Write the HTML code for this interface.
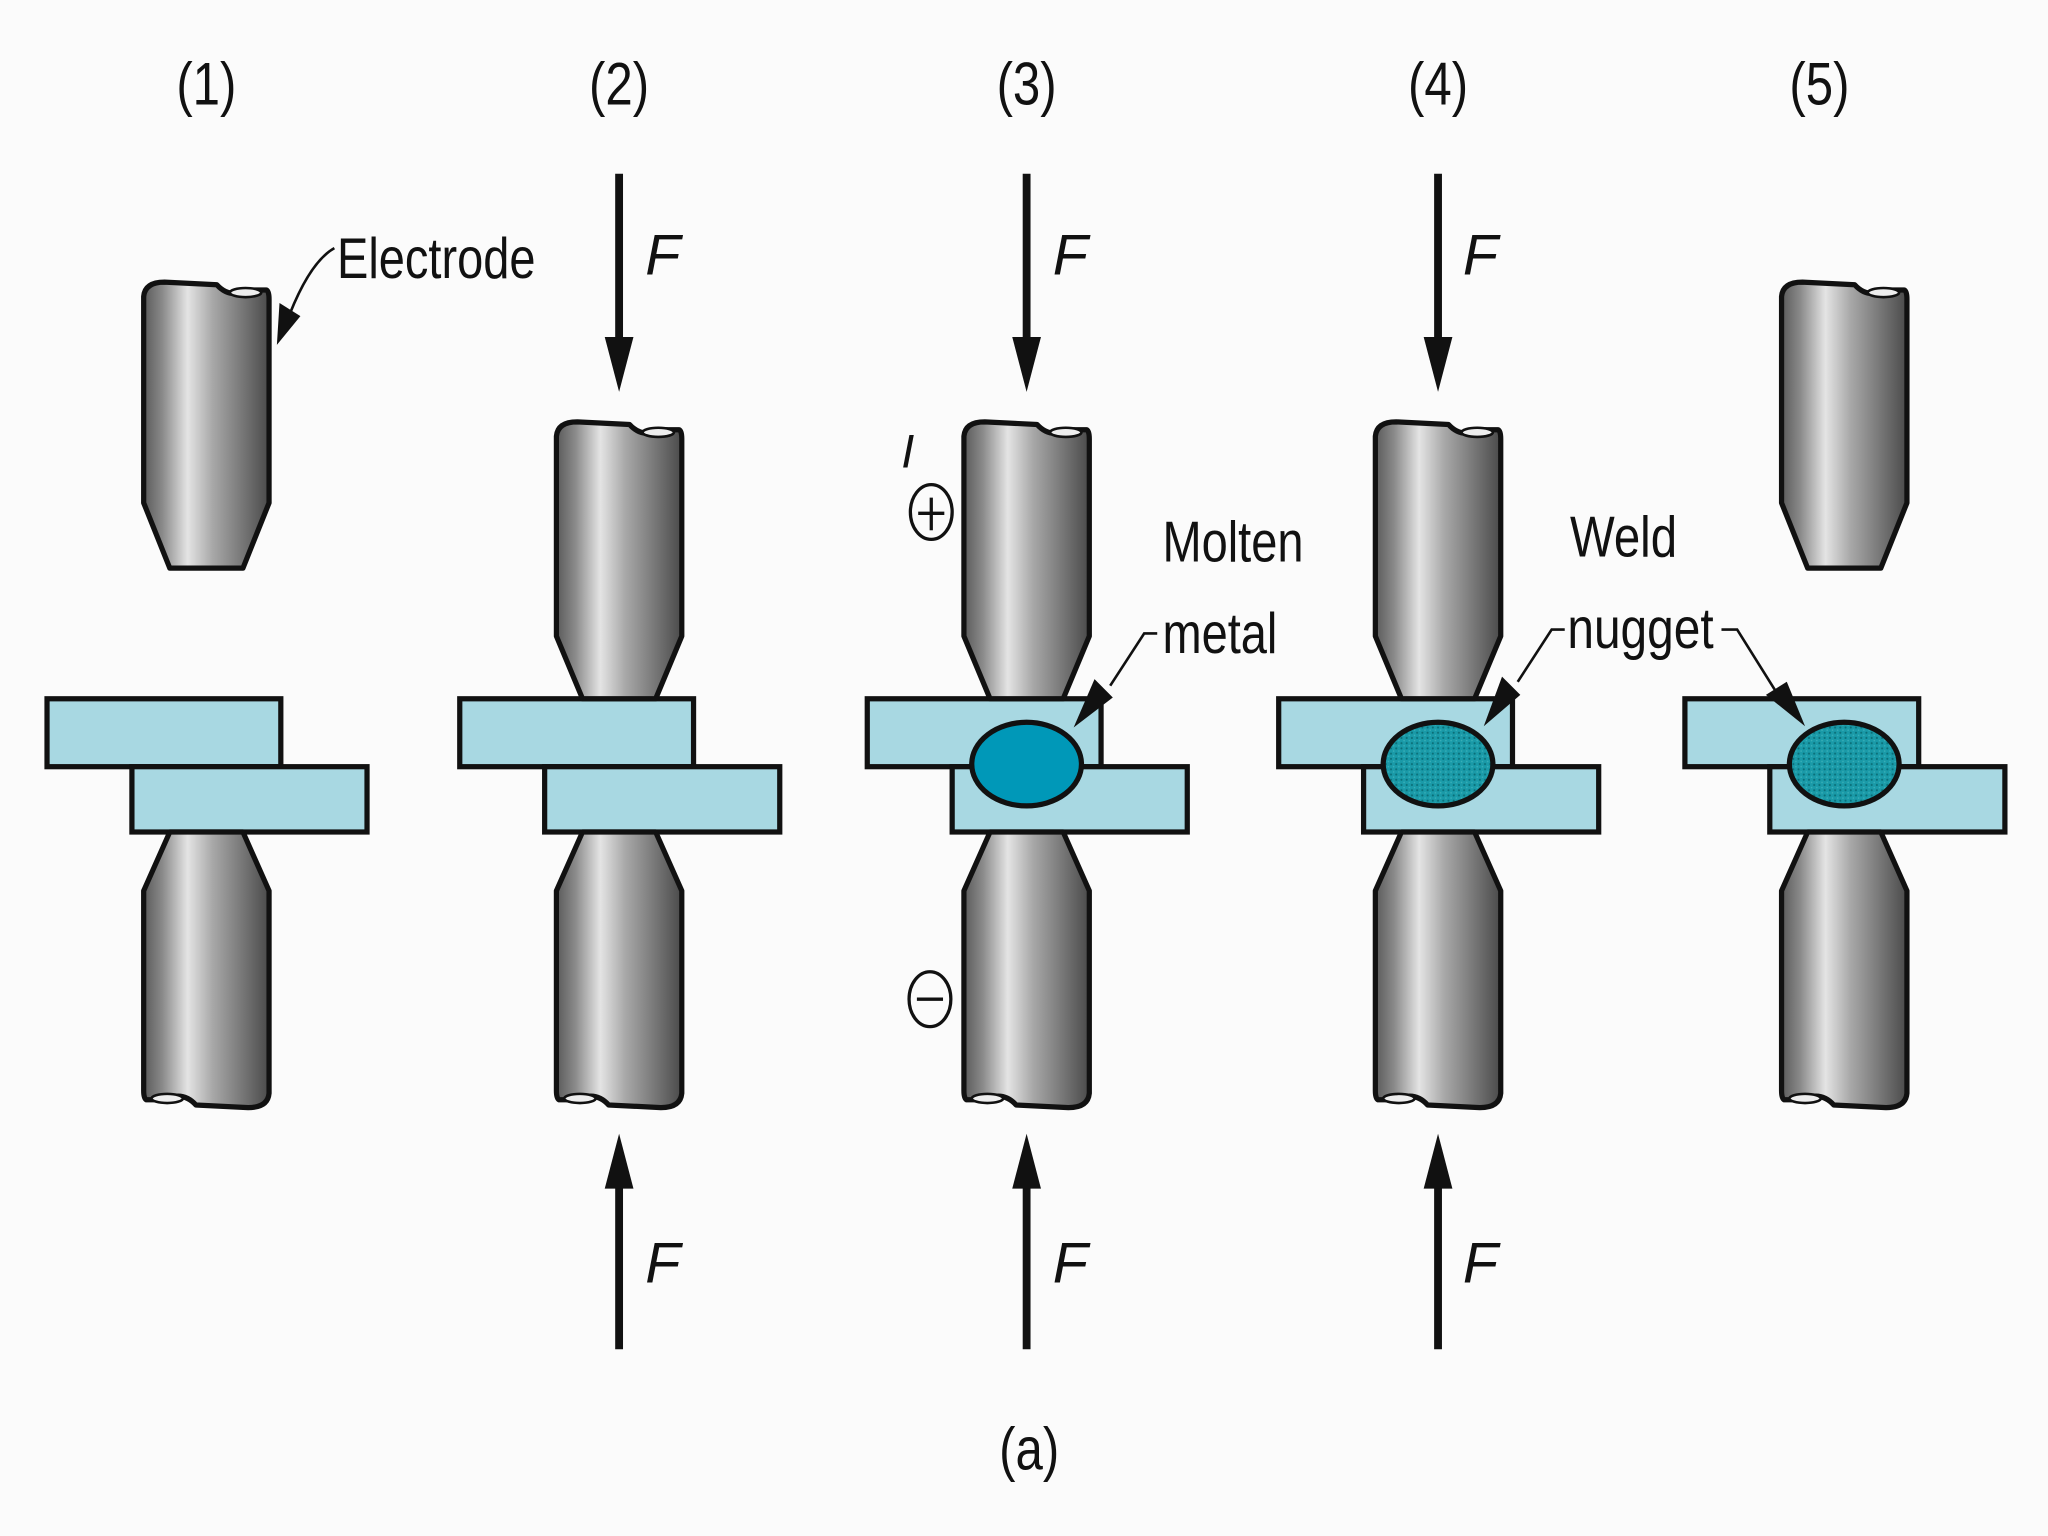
<!DOCTYPE html>
<html><head><meta charset="utf-8"><style>
html,body{margin:0;padding:0;background:#fbfbfb}
svg{display:block}
text{font-family:"Liberation Sans Narrow","Liberation Sans",sans-serif;fill:#111}
</style></head><body>
<svg width="2048" height="1536" viewBox="0 0 1568 1176" xmlns="http://www.w3.org/2000/svg">
<defs>
<linearGradient id="g" x1="0" x2="1" y1="0" y2="0">
<stop offset="0" stop-color="#5a5a5a"/><stop offset="0.15" stop-color="#8a8a8a"/>
<stop offset="0.35" stop-color="#e4e4e4"/><stop offset="0.55" stop-color="#a8a8a8"/>
<stop offset="0.85" stop-color="#6a6a6a"/><stop offset="1" stop-color="#4a4a4a"/>
</linearGradient>
<pattern id="dots" width="4" height="4" patternUnits="userSpaceOnUse">
<rect width="4" height="4" fill="#1a9aa8"/><circle cx="1" cy="1" r="0.8" fill="#0a6f78"/><circle cx="3" cy="3" r="0.6" fill="#3ab0b8"/>
</pattern>
<g id="up">
<path d="M-48,12 Q-47,1 -32,1 L8,3 Q18,14 32,7 L46,7 Q48,8 48,14 L48,165 L28,213 L-28,213 L-48,165 Z" fill="url(#g)" stroke="#111" stroke-width="4" stroke-linejoin="round"/>
<ellipse cx="30" cy="9" rx="12" ry="3.5" fill="#eee" stroke="#111" stroke-width="2"/>
</g>
<g id="up1">
<path d="M-48,12 Q-47,1 -32,1 L8,3 Q18,14 32,7 L46,7 Q48,8 48,14 L48,170 L28,220 L-28,220 L-48,170 Z" fill="url(#g)" stroke="#111" stroke-width="4" stroke-linejoin="round"/>
<ellipse cx="30" cy="9" rx="12" ry="3.5" fill="#eee" stroke="#111" stroke-width="2"/>
</g>
<g id="lo">
<path d="M-28,0 L28,0 L48,45 L48,200 Q47,211 32,211 L-8,209 Q-18,198 -32,205 L-46,205 Q-48,204 -48,198 L-48,45 Z" fill="url(#g)" stroke="#111" stroke-width="4" stroke-linejoin="round"/>
<ellipse cx="-30" cy="204" rx="12" ry="3.5" fill="#eee" stroke="#111" stroke-width="2"/>
</g>
<g id="plates">
<rect x="-122" y="535" width="179" height="52" fill="#a8d8e2" stroke="#111" stroke-width="4"/>
<rect x="-57" y="587" width="180" height="50" fill="#a8d8e2" stroke="#111" stroke-width="4"/>
</g>
<g id="fd"><line x1="0" y1="133" x2="0" y2="262" stroke="#111" stroke-width="6"/><path d="M-11,258 L11,258 L0,300 Z" fill="#111"/></g>
<g id="fu"><line x1="0" y1="1033" x2="0" y2="905" stroke="#111" stroke-width="6"/><path d="M-11,910 L11,910 L0,868 Z" fill="#111"/></g>
</defs>

<g font-size="46" text-anchor="middle">
<text x="158" y="80" textLength="46" lengthAdjust="spacingAndGlyphs">(1)</text>
<text x="474" y="80" textLength="46" lengthAdjust="spacingAndGlyphs">(2)</text>
<text x="786" y="80" textLength="46" lengthAdjust="spacingAndGlyphs">(3)</text>
<text x="1101" y="80" textLength="46" lengthAdjust="spacingAndGlyphs">(4)</text>
<text x="1393" y="80" textLength="46" lengthAdjust="spacingAndGlyphs">(5)</text>
</g>

<use href="#plates" x="158"/>
<use href="#up1" x="158" y="215"/>
<use href="#lo" x="158" y="637"/>

<use href="#plates" x="474"/>
<use href="#up" x="474" y="322"/>
<use href="#lo" x="474" y="637"/>
<use href="#fd" x="474"/><use href="#fu" x="474"/>

<use href="#plates" x="786"/>
<use href="#up" x="786" y="322"/>
<use href="#lo" x="786" y="637"/>
<use href="#fd" x="786"/><use href="#fu" x="786"/>
<ellipse cx="786" cy="585" rx="42" ry="32" fill="#0098b8" stroke="#111" stroke-width="4"/>

<use href="#plates" x="1101"/>
<use href="#up" x="1101" y="322"/>
<use href="#lo" x="1101" y="637"/>
<use href="#fd" x="1101"/><use href="#fu" x="1101"/>
<ellipse cx="1101" cy="585" rx="42" ry="32" fill="url(#dots)" stroke="#111" stroke-width="4"/>

<use href="#plates" x="1412"/>
<use href="#up1" x="1412" y="215"/>
<use href="#lo" x="1412" y="637"/>
<ellipse cx="1412" cy="585" rx="42" ry="32" fill="url(#dots)" stroke="#111" stroke-width="4"/>

<g font-size="44" font-style="italic">
<text x="494" y="210">F</text><text x="806" y="210">F</text><text x="1120" y="210">F</text>
<text x="494" y="982">F</text><text x="806" y="982">F</text><text x="1120" y="982">F</text>
</g>

<text x="258" y="213" font-size="44" textLength="152" lengthAdjust="spacingAndGlyphs">Electrode</text>
<path d="M256,190 Q238,200 222,240" fill="none" stroke="#111" stroke-width="2"/>
<path d="M212,264 L214,232 L230,242 Z" fill="#111"/>

<text x="690" y="358" font-size="36" font-style="italic">I</text>
<ellipse cx="713" cy="392" rx="16" ry="21" fill="none" stroke="#111" stroke-width="2.5"/>
<line x1="703" y1="393" x2="723" y2="393" stroke="#111" stroke-width="2.5"/>
<line x1="713" y1="381" x2="713" y2="406" stroke="#111" stroke-width="2.5"/>
<ellipse cx="712" cy="765" rx="16" ry="21" fill="none" stroke="#111" stroke-width="2.5"/>
<line x1="702" y1="765" x2="722" y2="765" stroke="#111" stroke-width="2.5"/>

<text x="890" y="430" font-size="44" textLength="108" lengthAdjust="spacingAndGlyphs">Molten</text>
<text x="890" y="500" font-size="44" textLength="88" lengthAdjust="spacingAndGlyphs">metal</text>
<path d="M886,485 L876,485 L850,525" fill="none" stroke="#111" stroke-width="2"/>
<path d="M822,557 L838,520 L852,534 Z" fill="#111"/>

<text x="1202" y="426" font-size="44" textLength="82" lengthAdjust="spacingAndGlyphs">Weld</text>
<text x="1200" y="496" font-size="44" textLength="112" lengthAdjust="spacingAndGlyphs">nugget</text>
<path d="M1198,482 L1188,482 L1162,522" fill="none" stroke="#111" stroke-width="2"/>
<path d="M1136,556 L1150,518 L1164,532 Z" fill="#111"/>
<path d="M1318,482 L1330,482 L1360,530" fill="none" stroke="#111" stroke-width="2"/>
<path d="M1382,556 L1352,532 L1368,522 Z" fill="#111"/>

<text x="788" y="1125" font-size="46" text-anchor="middle" textLength="46" lengthAdjust="spacingAndGlyphs">(a)</text>
</svg>
</body></html>
